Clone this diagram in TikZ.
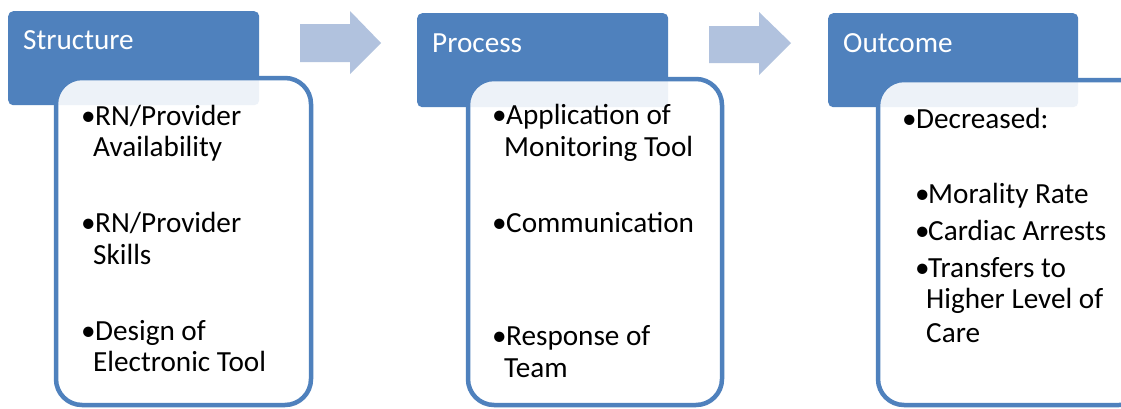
\documentclass[tikz,border=0pt]{standalone}
\usepackage{fontspec}
\setmainfont{Carlito}
\definecolor{hdr}{HTML}{4F81BD}
\definecolor{arr}{HTML}{B1C2DE}
\begin{document}
\begin{tikzpicture}[x=1pt,y=-1pt,
  hdrbox/.style={fill=hdr, rounded corners=5pt, inner sep=0pt, anchor=north west},
  bodybox/.style={draw=hdr, line width=4.5pt, fill=white, fill opacity=0.9, rounded corners=26pt},
  blockarrow/.style={fill=arr},
  title/.style={anchor=base west, inner sep=0pt, text=white, font=\fontsize{29.2}{34}\selectfont},
  item/.style={anchor=base west, inner sep=0pt, font=\fontsize{29.2}{32}\selectfont}]
\useasboundingbox (0,0) rectangle (1121,408);
\clip (0,0) rectangle (1121,408);
\fill[white] (0,0) rectangle (1121,408);

% block arrows
\path[blockarrow] (300,24) -- (350,24) -- (350,11) -- (381,43) -- (350,74) -- (350,62) -- (300,62) -- cycle;
\path[blockarrow] (709,26) -- (759,26) -- (759,12) -- (791,43) -- (759,75) -- (759,63) -- (709,63) -- cycle;

% headers
\node[hdrbox, minimum width=251pt, minimum height=94pt] (h1) at (8,11) {};
\node[hdrbox, minimum width=251pt, minimum height=94pt] (h2) at (417,13) {};
\node[hdrbox, minimum width=250pt, minimum height=94pt] (h3) at (828,13) {};

% bodies
\path[bodybox] (56,78) rectangle (311,405);
\path[bodybox] (468,79) rectangle (722,405);
\path[bodybox] (878,80) rectangle (1145,405);

% titles
\node[title] (t1) at (23,49) {Structure};
\node[title] (t2) at (432,52) {Process};
\node[title] (t3) at (843,52) {Outcome};

% Structure items
\node[item] (s1b) at (81,125) {•};
\node[item] (s1a) at (95,125) {RN/Provider};
\node[item] (s1c) at (93,156) {Availability};
\node[item] (s2b) at (81,232) {•};
\node[item] (s2a) at (95,232) {RN/Provider};
\node[item] (s2c) at (93,264) {Skills};
\node[item] (s3b) at (81,340) {•};
\node[item] (s3a) at (95,340) {Design of};
\node[item] (s3c) at (93,371) {Electronic Tool};

% Process items
\node[item] (p1b) at (492,124) {•};
\node[item] (p1a) at (506,124) {Application of};
\node[item] (p1c) at (504,156) {Monitoring Tool};
\node[item] (p2b) at (492,232) {•};
\node[item] (p2a) at (506,232) {Communication};
\node[item] (p3b) at (492,345) {•};
\node[item] (p3a) at (506,345) {Response of};
\node[item] (p3c) at (504,377) {Team};

% Outcome items
\node[item] (o1b) at (902,128) {•};
\node[item] (o1a) at (916,128) {Decreased:};
\node[item] (o2b) at (915,203) {•};
\node[item] (o2a) at (928,203) {Morality Rate};
\node[item] (o3b) at (915,240) {•};
\node[item] (o3a) at (928,240) {Cardiac Arrests};
\node[item] (o4b) at (915,277) {•};
\node[item] (o4a) at (928,277) {Transfers to};
\node[item] (o4c) at (926,308) {Higher Level of};
\node[item] (o4d) at (926,342) {Care};
\end{tikzpicture}
\end{document}
